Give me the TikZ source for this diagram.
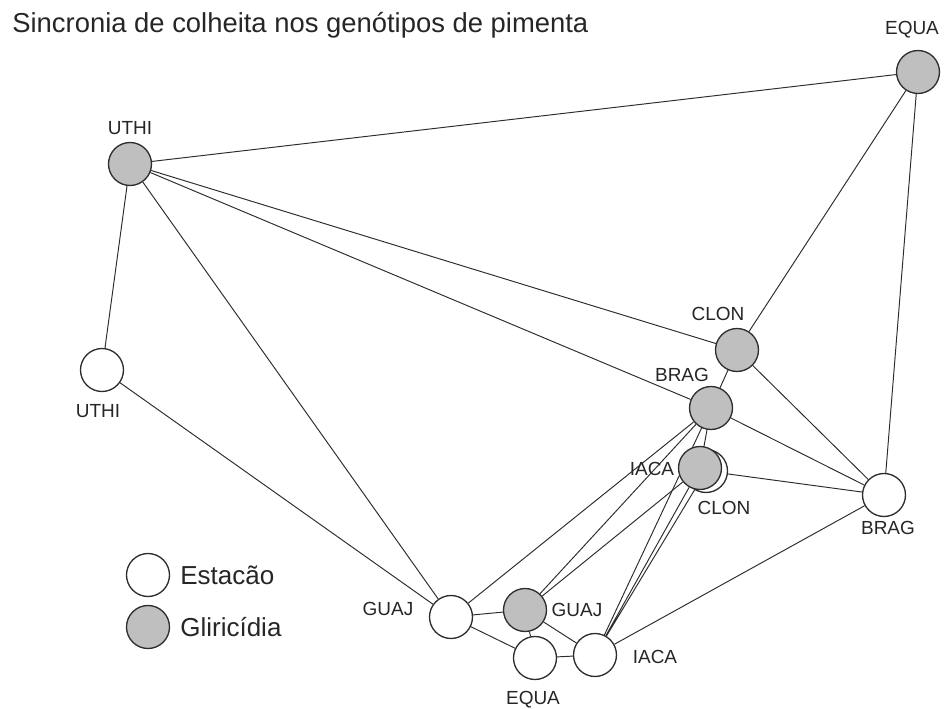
\documentclass[tikz,border=0pt]{standalone}
\usepackage{fontspec}
\setmainfont{Liberation Sans}
\usetikzlibrary{backgrounds}
\definecolor{gliri}{RGB}{191,191,191}
\definecolor{traco}{RGB}{45,45,45}

\begin{document}
\begin{tikzpicture}[x=0.02cm,y=-0.02cm,
  genotipo/.style={circle,minimum size=0.86cm,inner sep=0pt,draw=traco,line width=0.75pt},
  estacao/.style={genotipo,fill=white},
  gliricidia/.style={genotipo,fill=gliri},
  rotulo/.style={font=\fontsize{10.8}{13}\selectfont,text=black!85,inner sep=0pt},
  legenda/.style={font=\fontsize{14.8}{17}\selectfont,text=black!85,anchor=west,inner sep=0pt},
  ligacao/.style={draw=traco,line width=0.55pt}]
\useasboundingbox (0,0) rectangle (950,709);
\node at (12,33)[anchor=base west,inner sep=0pt,font=\fontsize{15.6}{18}\selectfont,text=black!85](titulo){Sincronia de colheita nos genótipos de pimenta};
% gliricidia
\node at (130,164)[gliricidia](gU){};
\node at (918,72)[gliricidia](gE){};
\node at (737,350)[gliricidia](gC){};
\node at (711,408)[gliricidia](gB){};
\node at (706,471)[estacao](wC){};
\node at (700,468)[gliricidia](gI){};
\node at (525,610)[gliricidia](gG){};
% estacao
\node at (102,370)[estacao](wU){};
\node at (884,495)[estacao](wB){};
\node at (451,617)[estacao](wG){};
\node at (535,658)[estacao](wE){};
\node at (595,655)[estacao](wI){};
% rotulos
\node at (130,128)[rotulo](lgU){UTHI};
\node at (912,30)[rotulo](lgE){EQUA};
\node at (718,314)[rotulo](lgC){CLON};
\node at (682,375)[rotulo](lgB){BRAG};
\node at (652,469)[rotulo](lgI){IACA};
\node at (577,610)[rotulo](lgG){GUAJ};
\node at (98,411)[rotulo](lwU){UTHI};
\node at (724,508)[rotulo](lwC){CLON};
\node at (888,528)[rotulo](lwB){BRAG};
\node at (388,609)[rotulo](lwG){GUAJ};
\node at (533,700)[rotulo](lwE){EQUA};
\node at (655,657)[rotulo](lwI){IACA};
% legenda
\node at (148,575)[estacao](le){};
\node at (148,627)[gliricidia](lg){};
\node at (180,575)[legenda](tle){Estacão};
\node at (180,627)[legenda](tlg){Gliricídia};
\begin{pgfonlayer}{background}
\draw[ligacao] (gU)--(gE) (gU)--(wU) (gU)--(gC) (gU)--(gB) (gU)--(wG);
\draw[ligacao] (wU)--(wG) (gE)--(gC) (gE)--(wB);
\draw[ligacao] (gC)--(gB) (gC)--(wB) (gB)--(wB) (gB)--(gI) (gB)--(wI);
\draw[ligacao] (gB)--(wG) (gB)--(gG) (gI)--(gG) (gI)--(wI) (wC)--(wI) (wC)--(wB);
\draw[ligacao] (wG)--(gG) (wG)--(wE) (gG)--(wE) (gG)--(wI) (wE)--(wI) (wI)--(wB);
\end{pgfonlayer}
\end{tikzpicture}
\end{document}
